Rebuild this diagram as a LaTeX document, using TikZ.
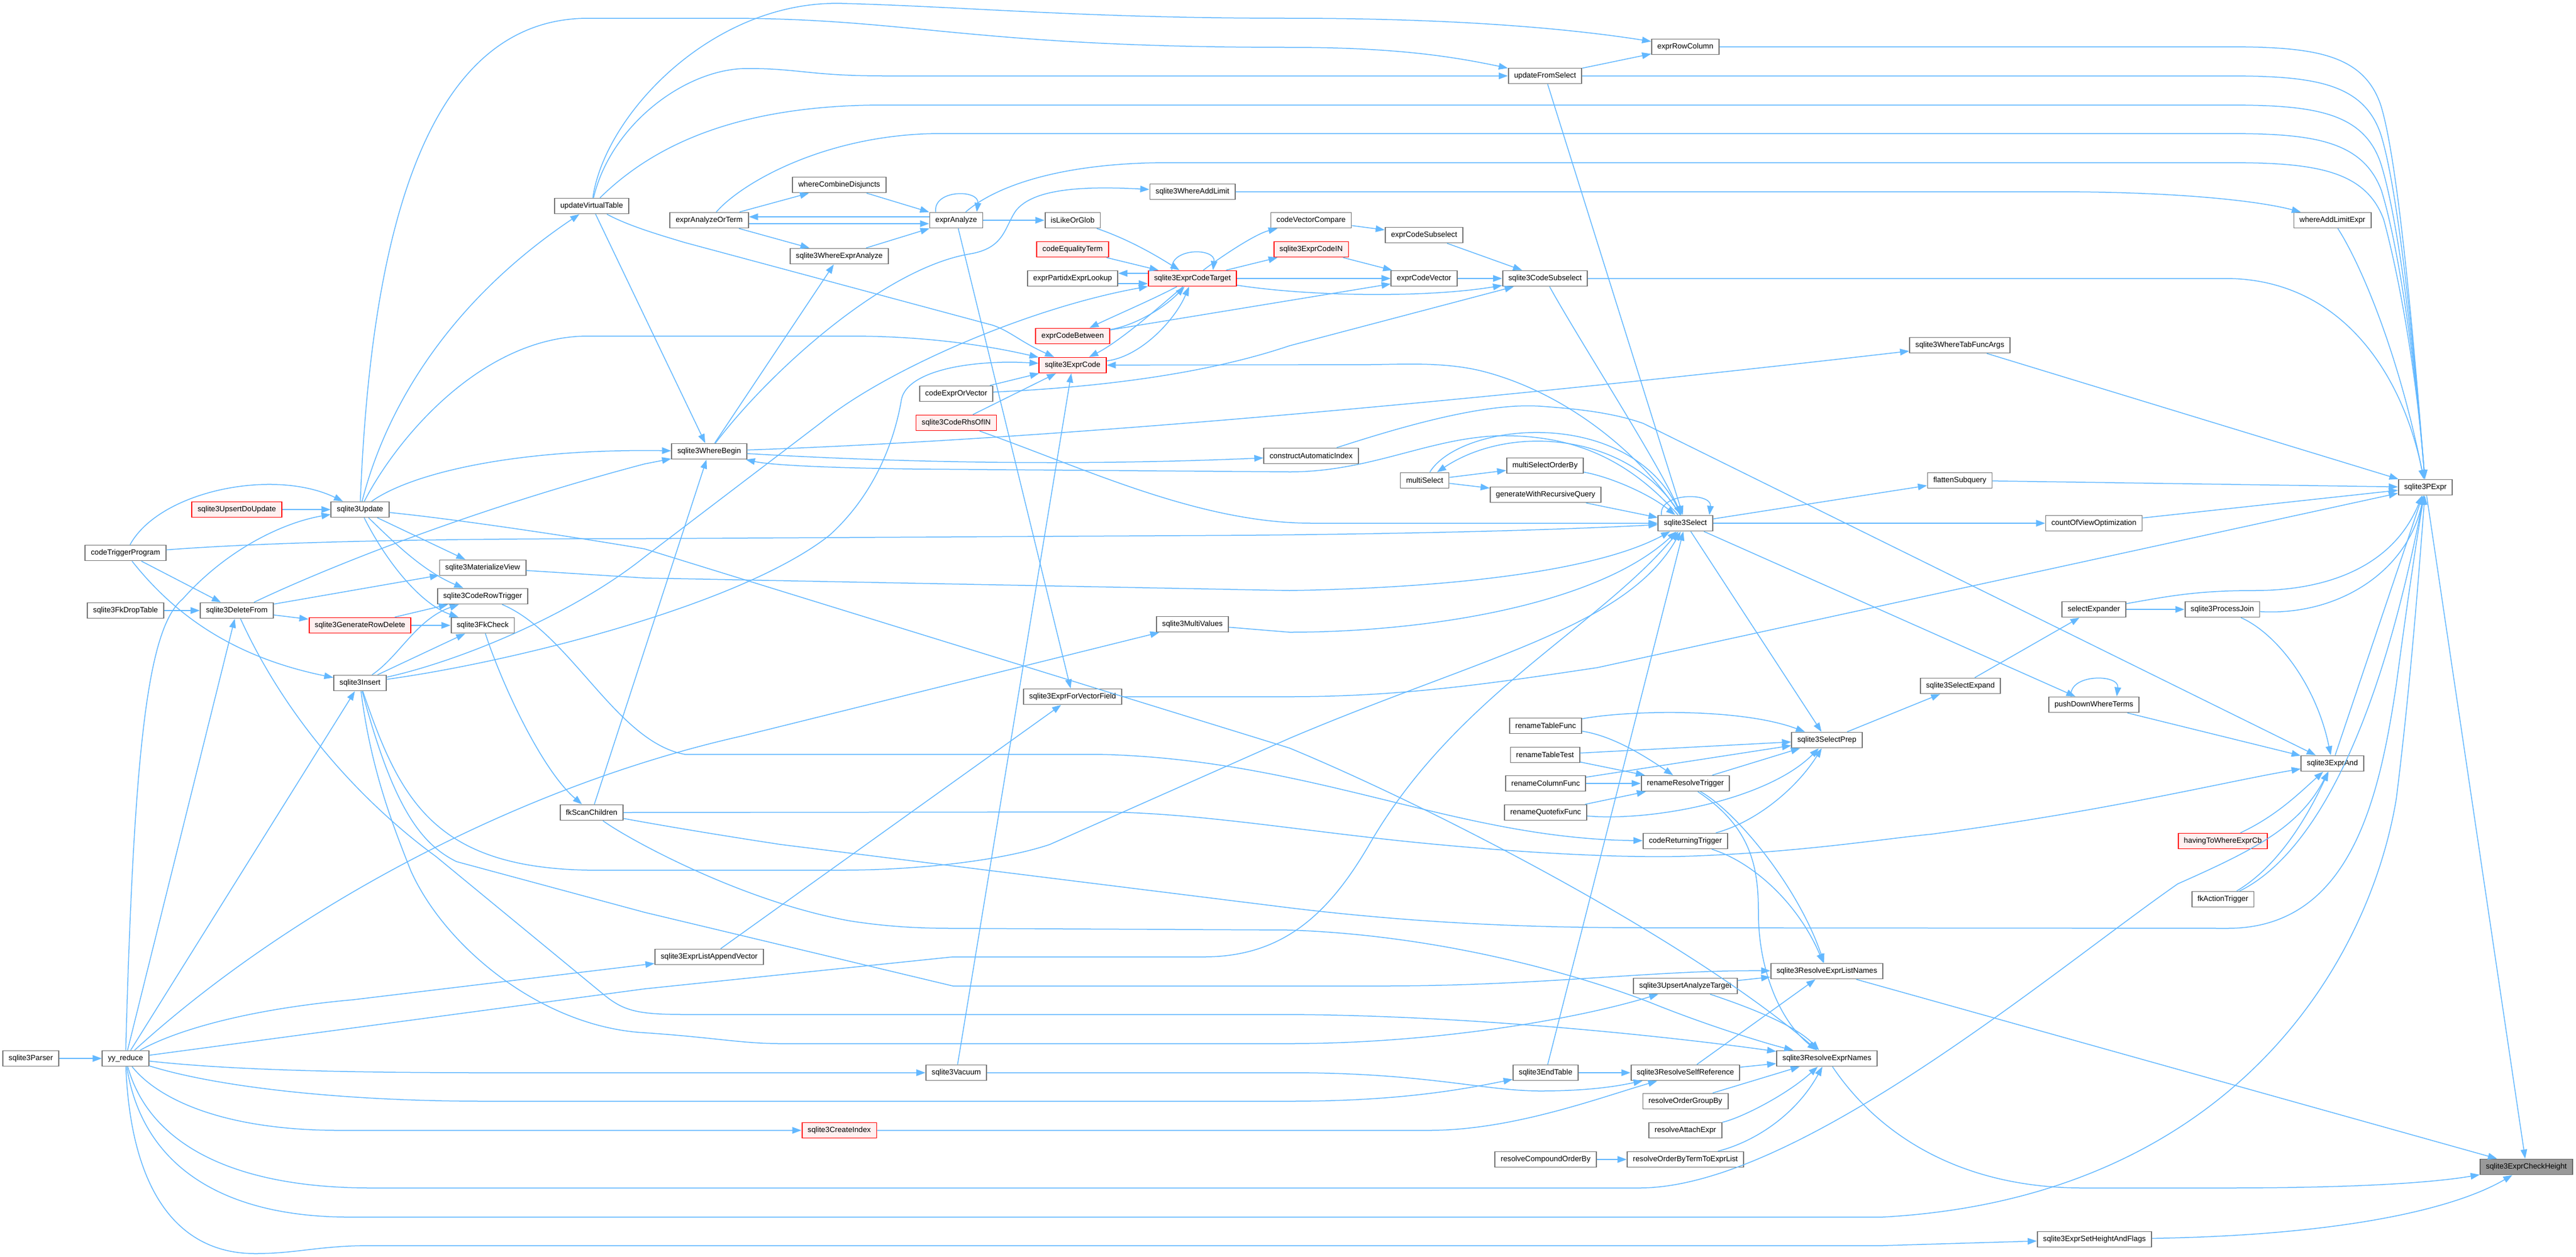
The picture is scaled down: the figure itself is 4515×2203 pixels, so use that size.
\documentclass[tikz,border=0pt]{standalone}
\usepackage{fontspec}
\setmainfont{Liberation Sans}
\usetikzlibrary{arrows.meta}
\definecolor{edgeblue}{HTML}{63B8FF}
\definecolor{redfill}{HTML}{FFF0F0}
\definecolor{rootfill}{HTML}{999999}
\tikzset{
  fnbox/.style={draw=black!55, fill=white, line width=0.18mm, inner xsep=1mm, inner ysep=0pt,
    minimum height=2.7mm, font=\fontsize{3.78pt}{4.5pt}\selectfont},
  fnred/.style={fnbox, draw=red, fill=redfill},
  fnroot/.style={fnbox, draw=black!60, fill=rootfill},
  callarrow/.style={draw=edgeblue, line width=0.15mm, -{Triangle[length=1.6mm,width=1.15mm]}},
}
\begin{document}
\begin{tikzpicture}[x=0.1mm,y=-0.1mm]
  \useasboundingbox (0,0) rectangle (4515,2203);
  % callers, left to right
  \node[fnbox] (parser) at (54,1855) {sqlite3Parser};
  \node[fnbox] (yyreduce) at (220,1855) {yy\_reduce};
  \node[fnbox] (trigprog) at (220,969) {codeTriggerProgram};
  \node[fnbox] (fkdrop) at (220,1070) {sqlite3FkDropTable};
  \node[fnred] (upsertdo) at (415,893) {sqlite3UpsertDoUpdate};
  \node[fnbox] (delfrom) at (415,1070) {sqlite3DeleteFrom};
  \node[fnbox] (update) at (631,893) {sqlite3Update};
  \node[fnred] (genrowdel) at (631,1096) {sqlite3GenerateRowDelete};
  \node[fnbox] (insert) at (631,1197) {sqlite3Insert};
  \node[fnbox] (matview) at (846,995) {sqlite3MaterializeView};
  \node[fnbox] (rowtrig) at (846,1045) {sqlite3CodeRowTrigger};
  \node[fnbox] (fkcheck) at (846,1096) {sqlite3FkCheck};
  \node[fnbox] (updvtab) at (1037,361) {updateVirtualTable};
  \node[fnbox] (fkscan) at (1037,1424) {fkScanChildren};
  \node[fnbox] (orterm) at (1243,386) {exprAnalyzeOrTerm};
  \node[fnbox] (wherebegin) at (1243,791) {sqlite3WhereBegin};
  \node[fnbox] (listappvec) at (1243,1677) {sqlite3ExprListAppendVector};
  \node[fnbox] (combdisj) at (1471,324) {whereCombineDisjuncts};
  \node[fnbox] (whereexpr) at (1471,449) {sqlite3WhereExprAnalyze};
  \node[fnred] (createidx) at (1471,1981) {sqlite3CreateIndex};
  \node[fnbox] (analyze) at (1676,386) {exprAnalyze};
  \node[fnbox] (codeorvec) at (1676,690) {codeExprOrVector};
  \node[fnred] (rhsofin) at (1676,741) {sqlite3CodeRhsOfIN};
  \node[fnbox] (vacuum) at (1676,1880) {sqlite3Vacuum};
  \node[fnbox] (likeglob) at (1880,386) {isLikeOrGlob};
  \node[fnred] (eqterm) at (1880,437) {codeEqualityTerm};
  \node[fnbox] (partidx) at (1880,488) {exprPartidxExprLookup};
  \node[fnred] (between) at (1880,589) {exprCodeBetween};
  \node[fnred] (exprcode) at (1880,640) {sqlite3ExprCode};
  \node[fnbox] (vecfield) at (1880,1221) {sqlite3ExprForVectorField};
  \node[fnbox] (addlimit) at (2090,336) {sqlite3WhereAddLimit};
  \node[fnred] (codetarget) at (2090,488) {sqlite3ExprCodeTarget};
  \node[fnbox] (multivalues) at (2090,1094) {sqlite3MultiValues};
  \node[fnbox] (veccompare) at (2298,386) {codeVectorCompare};
  \node[fnred] (codein) at (2298,437) {sqlite3ExprCodeIN};
  \node[fnbox] (autoindex) at (2298,799) {constructAutomaticIndex};
  \node[fnbox] (exprsubsel) at (2496,412) {exprCodeSubselect};
  \node[fnbox] (codevec) at (2496,488) {exprCodeVector};
  \node[fnbox] (multiselect) at (2497,842) {multiSelect};
  \node[fnbox] (updfromsel) at (2708,133) {updateFromSelect};
  \node[fnbox] (codesubsel) at (2708,488) {sqlite3CodeSubselect};
  \node[fnbox] (orderby) at (2708,816) {multiSelectOrderBy};
  \node[fnbox] (recursive) at (2709,867) {generateWithRecursiveQuery};
  \node[fnbox] (rtabfunc) at (2709,1272) {renameTableFunc};
  \node[fnbox] (rtabtest) at (2708,1323) {renameTableTest};
  \node[fnbox] (rcolfunc) at (2709,1373) {renameColumnFunc};
  \node[fnbox] (rquotefix) at (2709,1424) {renameQuotefixFunc};
  \node[fnbox] (endtable) at (2709,1880) {sqlite3EndTable};
  \node[fnbox] (compound) at (2709,2032) {resolveCompoundOrderBy};
  \node[fnbox] (rowcolumn) at (2954,82) {exprRowColumn};
  \node[fnbox] (select) at (2954,917) {sqlite3Select};
  \node[fnbox] (rresolve) at (2954,1373) {renameResolveTrigger};
  \node[fnbox] (returning) at (2954,1474) {codeReturningTrigger};
  \node[fnbox] (upsertana) at (2954,1728) {sqlite3UpsertAnalyzeTarget};
  \node[fnbox] (selfref) at (2954,1880) {sqlite3ResolveSelfReference};
  \node[fnbox] (groupby) at (2954,1930) {resolveOrderGroupBy};
  \node[fnbox] (attach) at (2954,1981) {resolveAttachExpr};
  \node[fnbox] (termtolist) at (2954,2032) {resolveOrderByTermToExprList};
  \node[fnbox] (selectprep) at (3202,1297) {sqlite3SelectPrep};
  \node[fnbox] (reslist) at (3202,1702) {sqlite3ResolveExprListNames};
  \node[fnbox] (resnames) at (3202,1855) {sqlite3ResolveExprNames};
  \node[fnbox] (tabfunc) at (3435,605) {sqlite3WhereTabFuncArgs};
  \node[fnbox] (flatten) at (3435,842) {flattenSubquery};
  \node[fnbox] (selexpand) at (3436,1202) {sqlite3SelectExpand};
  \node[fnbox] (countview) at (3670,917) {countOfViewOptimization};
  \node[fnbox] (expander) at (3670,1068) {selectExpander};
  \node[fnbox] (pushdown) at (3670,1235) {pushDownWhereTerms};
  \node[fnbox] (setheight) at (3671,2172) {sqlite3ExprSetHeightAndFlags};
  \node[fnbox] (procjoin) at (3895,1068) {sqlite3ProcessJoin};
  \node[fnred] (having) at (3896,1474) {havingToWhereExprCb};
  \node[fnbox] (fkaction) at (3896,1576) {fkActionTrigger};
  \node[fnbox] (limitexpr) at (4088,386) {whereAddLimitExpr};
  \node[fnbox] (exprand) at (4088,1338) {sqlite3ExprAnd};
  \node[fnbox] (pexpr) at (4251,854) {sqlite3PExpr};
  \node[fnroot] (checkheight) at (4428,2045) {sqlite3ExprCheckHeight};

  % short calls
  \foreach \a/\b in {parser/yyreduce, fkdrop/delfrom, upsertdo/update, trigprog/delfrom,
      yyreduce/delfrom, yyreduce/insert, delfrom/genrowdel, delfrom/matview, update/matview,
      genrowdel/rowtrig, genrowdel/fkcheck, insert/fkcheck, updvtab/wherebegin, fkscan/wherebegin,
      orterm/combdisj, orterm/whereexpr, combdisj/analyze, whereexpr/analyze, wherebegin/whereexpr,
      analyze/likeglob, analyze/vecfield, eqterm/codetarget, codeorvec/exprcode, rhsofin/exprcode,
      vacuum/exprcode, listappvec/vecfield, codetarget/codein, codetarget/codevec,
      veccompare/exprsubsel, codein/codevec, between/codevec, exprsubsel/codesubsel,
      codevec/codesubsel, updfromsel/rowcolumn, updfromsel/select, recursive/select,
      multiselect/orderby, multiselect/recursive, endtable/select, select/countview, select/flatten,
      select/pushdown, select/selectprep, rtabtest/rresolve, rcolfunc/rresolve, rquotefix/rresolve,
      rcolfunc/selectprep, rresolve/selectprep, rtabtest/selectprep, selectprep/selexpand,
      selexpand/expander, expander/procjoin, pushdown/exprand, countview/pexpr, flatten/pexpr,
      tabfunc/pexpr, exprand/pexpr, pexpr/checkheight, reslist/checkheight, endtable/selfref,
      selfref/resnames, selfref/reslist, upsertana/reslist, groupby/resnames, compound/termtolist}
    \draw[callarrow] (\a) -- (\b);

  % pairs both ways
  \draw[callarrow] ([yshift=0.6mm]analyze.west) -- ([yshift=0.6mm]orterm.east);
  \draw[callarrow] ([yshift=-0.6mm]orterm.east) -- ([yshift=-0.6mm]analyze.west);
  \draw[callarrow] ([yshift=0.9mm]codetarget.west) -- ([yshift=0.9mm]partidx.east);
  \draw[callarrow] ([yshift=-0.9mm]partidx.east) -- ([yshift=-0.9mm]codetarget.west);
  \draw[callarrow] (codetarget) .. controls (2030,540) and (1960,600) .. (exprcode);
  \draw[callarrow] (exprcode) .. controls (2000,625) and (2060,560) .. (codetarget);
  \draw[callarrow] (codetarget) .. controls (2020,525) and (1950,555) .. (between);
  \draw[callarrow] (between) .. controls (1990,570) and (2040,540) .. (codetarget);

  % self calls
  \draw[callarrow] ([xshift=-3.6mm]analyze.north) .. controls +(-5,-40) and +(5,-40) .. ([xshift=3.6mm]analyze.north);
  \draw[callarrow] ([xshift=-3.6mm]codetarget.north) .. controls +(-5,-40) and +(5,-40) .. ([xshift=3.6mm]codetarget.north);
  \draw[callarrow] ([xshift=-4.2mm]select.north) .. controls +(-5,-40) and +(5,-40) .. ([xshift=4.2mm]select.north);
  \draw[callarrow] ([xshift=-4mm]pushdown.north) .. controls +(-5,-40) and +(5,-40) .. ([xshift=4mm]pushdown.north);

  % trigger program
  \draw[callarrow] (trigprog) .. controls (280,860) and (480,820) .. (update);
  \draw[callarrow] (trigprog) .. controls (300,1070) and (400,1150) .. (insert);
  \draw[callarrow] (trigprog) .. controls (500,948) and (800,944) .. (1130,944) -- (2200,938) .. controls (2600,934) and (2800,925) .. (select);

  % yy_reduce
  \draw[callarrow] (yyreduce) .. controls (235,1300) and (260,1100) .. (320,1050) .. controls (400,960) and (500,915) .. (update);
  \draw[callarrow] (yyreduce) .. controls (500,1600) and (900,1380) .. (1300,1290) -- (multivalues);
  \draw[callarrow] (yyreduce) .. controls (300,1810) and (420,1770) .. (620,1752) -- (listappvec);
  \draw[callarrow] (yyreduce) -- (1130,1733) -- (1670,1677) -- (2110,1677) .. controls (2250,1677) and (2330,1600) .. (2400,1480) .. controls (2550,1220) and (2800,1100) .. (select);
  \draw[callarrow] (yyreduce) .. controls (400,1875) and (600,1880) .. (850,1880) -- (vacuum);
  \draw[callarrow] (yyreduce) .. controls (380,1905) and (600,1930) .. (850,1930) -- (2260,1930) .. controls (2450,1930) and (2560,1910) .. (endtable);
  \draw[callarrow] (yyreduce) .. controls (280,1930) and (400,1982) .. (600,1981) -- (createidx);
  \draw[callarrow] (yyreduce) .. controls (260,2000) and (400,2082) .. (650,2082) -- (2873,2082) .. controls (3150,2082) and (3600,1700) .. (3817,1549) .. controls (3950,1490) and (4030,1450) .. (exprand);
  \draw[callarrow] (yyreduce) .. controls (250,2050) and (400,2135) .. (620,2133) -- (3300,2133) .. controls (3900,2100) and (4150,1700) .. (4200,1400) .. controls (4225,1200) and (4240,1000) .. (pexpr);
  \draw[callarrow] (yyreduce) .. controls (230,2100) and (320,2197) .. (447,2197) .. controls (520,2197) and (560,2183) .. (650,2183) -- (3300,2183) -- (setheight);

  % update, delete, insert
  \draw[callarrow] (update) .. controls (650,400) and (750,32) .. (1031,32) -- (1274,32) .. controls (1600,32) and (1700,83) .. (2260,83) .. controls (2450,83) and (2550,100) .. (updfromsel);
  \draw[callarrow] (update) .. controls (680,700) and (800,520) .. (updvtab);
  \draw[callarrow] (update) .. controls (720,830) and (900,786) .. (wherebegin);
  \draw[callarrow] (update) .. controls (700,760) and (850,589) .. (1031,589) -- (1490,589) .. controls (1640,589) and (1750,610) .. (exprcode);
  \draw[callarrow] (update) .. controls (800,910) and (1000,940) .. (1130,962) -- (2260,1311) .. controls (2500,1410) and (2950,1640) .. (resnames);
  \draw[callarrow] (update) .. controls (690,950) and (740,1000) .. (rowtrig);
  \draw[callarrow] (update) .. controls (680,990) and (740,1060) .. (fkcheck);
  \draw[callarrow] (delfrom) .. controls (540,1010) and (800,900) .. (1130,813) -- (wherebegin);
  \draw[callarrow] (delfrom) .. controls (520,1300) and (680,1440) .. (764,1501) -- (1052,1738) .. controls (1090,1770) and (1110,1778) .. (1200,1778) -- (2260,1778) .. controls (2600,1780) and (2950,1820) .. (resnames);
  \draw[callarrow] (insert) .. controls (700,1400) and (760,1520) .. (1030,1525) -- (1476,1525) .. controls (1600,1525) and (1750,1510) .. (1840,1480) -- (2260,1294) .. controls (2600,1150) and (2850,1100) .. (select);
  \draw[callarrow] (insert) .. controls (650,1350) and (690,1450) .. (720,1526) .. controls (780,1660) and (950,1800) .. (1130,1810) .. controls (1250,1818) and (1300,1829) .. (1368,1829) -- (2260,1829) .. controls (2500,1829) and (2750,1790) .. (upsertana);
  \draw[callarrow] (insert) .. controls (690,1420) and (740,1480) .. (800,1510) -- (1130,1599) -- (1670,1728) -- (2424,1728) .. controls (2700,1728) and (2900,1700) .. (reslist);
  \draw[callarrow] (insert) .. controls (900,1160) and (1300,1060) .. (1454,938) .. controls (1540,860) and (1570,760) .. (1580,700) .. controls (1590,650) and (1700,630) .. (exprcode);
  \draw[callarrow] (insert) .. controls (800,1160) and (1000,1080) .. (1130,976) -- (1440,740) .. controls (1550,650) and (1800,540) .. (codetarget);
  \draw[callarrow] (insert) .. controls (700,1150) and (730,1085) .. (rowtrig);
  \draw[callarrow] (fkcheck) .. controls (880,1200) and (950,1350) .. (fkscan);
  \draw[callarrow] (rowtrig) .. controls (1000,1110) and (1080,1300) .. (1200,1322) -- (1923,1322) .. controls (2300,1330) and (2550,1470) .. (returning);

  % fkScanChildren
  \draw[callarrow] (fkscan.east) -- (1923,1423) .. controls (2100,1423) and (2300,1460) .. (2519,1480) .. controls (2700,1497) and (2850,1503) .. (2945,1501) .. controls (3150,1495) and (3300,1470) .. (3385,1462) .. controls (3700,1420) and (3900,1370) .. (exprand);
  \draw[callarrow] (fkscan) .. controls (1150,1445) and (1250,1462) .. (1368,1480) -- (2260,1591) .. controls (2500,1620) and (2700,1626) .. (2894,1626) -- (3904,1627) .. controls (4120,1627) and (4170,1400) .. (4200,1200) .. controls (4220,1050) and (4235,950) .. (pexpr);
  \draw[callarrow] (fkscan) .. controls (1100,1470) and (1300,1580) .. (1490,1614) .. controls (1560,1625) and (1620,1627) .. (1670,1627) -- (2260,1630) .. controls (2550,1640) and (2800,1720) .. (2900,1760) .. controls (3000,1800) and (3100,1830) .. (resnames);

  % where clause
  \draw[callarrow] (wherebegin) .. controls (1350,650) and (1550,470) .. (1700,445) .. controls (1760,435) and (1760,400) .. (1780,370) .. controls (1810,330) and (1900,326) .. (addlimit);
  \draw[callarrow] (wherebegin) .. controls (1900,768) and (2700,690) .. (tabfunc);
  \draw[callarrow] (wherebegin) .. controls (1600,812) and (1900,816) .. (autoindex);
  \draw[callarrow] (autoindex) .. controls (2450,750) and (2600,705) .. (2700,712) .. controls (2790,718) and (2840,728) .. (2880,742) -- (exprand);
  \draw[callarrow] (addlimit) -- (3600,336) .. controls (3800,336) and (3950,350) .. (limitexpr);
  \draw[callarrow] (limitexpr) .. controls (4130,450) and (4200,600) .. (pexpr);

  % updateVirtualTable
  \draw[callarrow] (updvtab) .. controls (1060,200) and (1250,0) .. (1476,6) .. controls (1700,12) and (1900,32) .. (2260,32) .. controls (2550,32) and (2750,50) .. (rowcolumn);
  \draw[callarrow] (updvtab) .. controls (1070,220) and (1200,120) .. (1310,120) .. controls (1400,120) and (1420,133) .. (1550,133) -- (updfromsel);
  \draw[callarrow] (updvtab) .. controls (1150,250) and (1300,184) .. (1550,184) -- (3900,184) .. controls (4050,184) and (4140,194) .. (4172,284) .. controls (4205,384) and (4235,650) .. (pexpr);
  \draw[callarrow] (updvtab) .. controls (1100,395) and (1150,410) .. (1200,425) -- (1740,570) .. controls (1770,580) and (1790,600) .. (exprcode);

  % long lines into sqlite3PExpr
  \draw[callarrow] (rowcolumn) -- (3900,82) .. controls (4050,82) and (4140,92) .. (4172,182) .. controls (4205,282) and (4235,650) .. (pexpr);
  \draw[callarrow] (updfromsel) -- (3900,133) .. controls (4050,133) and (4140,143) .. (4172,233) .. controls (4205,333) and (4235,650) .. (pexpr);
  \draw[callarrow] (orterm) .. controls (1300,320) and (1450,234) .. (1650,234) -- (3900,234) .. controls (4050,234) and (4140,244) .. (4174,334) .. controls (4205,434) and (4235,650) .. (pexpr);
  \draw[callarrow] (analyze) .. controls (1740,330) and (1850,285) .. (2050,285) -- (3900,285) .. controls (4050,285) and (4145,295) .. (4178,385) .. controls (4205,485) and (4235,650) .. (pexpr);
  \draw[callarrow] (codesubsel) -- (3900,488) .. controls (4100,488) and (4210,650) .. (pexpr);
  \draw[callarrow] (vecfield) -- (2260,1221) .. controls (2450,1221) and (2600,1200) .. (2800,1170) -- (pexpr);
  \draw[callarrow] (expander) .. controls (3800,1045) and (3850,1035) .. (3950,1035) .. controls (4100,1035) and (4200,980) .. (pexpr);
  \draw[callarrow] (procjoin) .. controls (4100,1080) and (4220,1000) .. (pexpr);
  \draw[callarrow] (fkaction) .. controls (4010,1520) and (4150,1380) .. (pexpr);

  % sqlite3ExprAnd
  \draw[callarrow] (procjoin) .. controls (3990,1110) and (4060,1200) .. (exprand);
  \draw[callarrow] (having) .. controls (3990,1430) and (4030,1390) .. (exprand);
  \draw[callarrow] (fkaction) .. controls (3990,1520) and (4040,1440) .. (exprand);

  % code generation
  \draw[callarrow] (likeglob) .. controls (1980,420) and (2030,450) .. (codetarget);
  \draw[callarrow] (codetarget) .. controls (2140,450) and (2200,410) .. (veccompare);
  \draw[callarrow] (codetarget) .. controls (2300,520) and (2500,522) .. (codesubsel);
  \draw[callarrow] (codeorvec) .. controls (1900,680) and (2100,660) .. (2260,606) -- (codesubsel);

  % sqlite3Select
  \draw[callarrow] (select) .. controls (2850,800) and (2750,760) .. (2620,764) .. controls (2500,770) and (2400,827) .. (2260,827) -- (1600,822) .. controls (1450,820) and (1350,815) .. (wherebegin);
  \draw[callarrow] (select) .. controls (2860,760) and (2650,740) .. (multiselect);
  \draw[callarrow] (multiselect) .. controls (2560,740) and (2850,710) .. (select);
  \draw[callarrow] (orderby) .. controls (2820,835) and (2890,865) .. (select);
  \draw[callarrow] (rhsofin) .. controls (1900,820) and (2100,917) .. (2300,917) -- (select);
  \draw[callarrow] (codesubsel) .. controls (2770,600) and (2900,800) .. (select);
  \draw[callarrow] (select) .. controls (2880,800) and (2750,690) .. (2600,651) .. controls (2530,633) and (2450,639) .. (2400,639) -- (exprcode);
  \draw[callarrow] (multivalues) -- (2260,1108) .. controls (2500,1108) and (2800,1060) .. (select);
  \draw[callarrow] (matview) -- (1130,1013) -- (2260,1035) .. controls (2550,1030) and (2800,1000) .. (select);

  % rename and resolve
  \draw[callarrow] (rtabfunc) .. controls (2850,1245) and (3050,1240) .. (selectprep);
  \draw[callarrow] (rtabfunc) .. controls (2830,1290) and (2890,1330) .. (rresolve);
  \draw[callarrow] (rquotefix) .. controls (2900,1440) and (3100,1400) .. (selectprep);
  \draw[callarrow] (returning) .. controls (3080,1440) and (3150,1380) .. (selectprep);
  \draw[callarrow] (rresolve) .. controls (3040,1420) and (3150,1550) .. (reslist);
  \draw[callarrow] (rresolve) .. controls (3070,1450) and (3082,1520) .. (3082,1600) .. controls (3082,1700) and (3120,1790) .. (resnames);
  \draw[callarrow] (returning) .. controls (3070,1510) and (3150,1580) .. (reslist);
  \draw[callarrow] (upsertana) .. controls (3080,1770) and (3150,1800) .. (resnames);
  \draw[callarrow] (attach) .. controls (3050,1960) and (3130,1920) .. (resnames);
  \draw[callarrow] (termtolist) .. controls (3080,2000) and (3150,1950) .. (resnames);
  \draw[callarrow] (createidx) -- (2505,1981) .. controls (2650,1981) and (2800,1925) .. (selfref);
  \draw[callarrow] (vacuum) -- (2260,1880) .. controls (2500,1880) and (2600,1912) .. (2700,1912) .. controls (2800,1912) and (2850,1900) .. (selfref);
  \draw[callarrow] (resnames) .. controls (3300,2000) and (3450,2082) .. (3650,2082) -- (3900,2082) .. controls (4100,2082) and (4250,2075) .. (checkheight);
  \draw[callarrow] (setheight) .. controls (4100,2165) and (4300,2120) .. (checkheight);
\end{tikzpicture}
\end{document}
